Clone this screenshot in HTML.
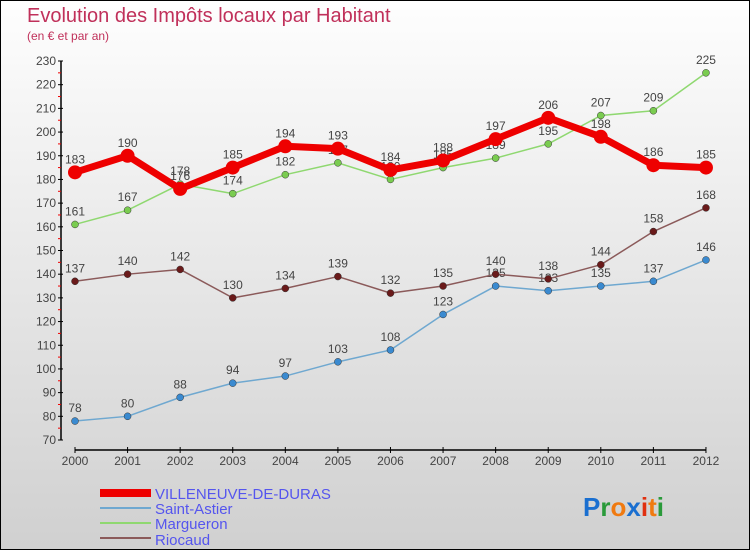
<!DOCTYPE html>
<html><head><meta charset="utf-8"><style>
body{margin:0}
#c{width:750px;height:550px;position:relative;box-sizing:border-box;border:1px solid #000;background:linear-gradient(#fefefe,#d0d0d0);font-family:"Liberation Sans",sans-serif;overflow:hidden}
</style></head><body>
<div id="c">
<svg id="s" width="750" height="550" style="position:absolute;left:-1px;top:-1px">
<text x="27" y="22" font-size="20" fill="#c0305a">Evolution des Impôts locaux par Habitant</text>
<text x="27" y="40" font-size="12" fill="#c0305a">(en € et par an)</text>
<g id="g"></g>
<g>
<rect x="100" y="489" width="51" height="8" fill="#e00"/>
<text x="155" y="499" font-size="15" fill="#5555ee">VILLENEUVE-DE-DURAS</text>
<line x1="100" y1="508" x2="151" y2="508" stroke="#6fa8d0" stroke-width="2"/>
<text x="155" y="514" font-size="15" fill="#5555ee">Saint-Astier</text>
<line x1="100" y1="523" x2="151" y2="523" stroke="#8fd870" stroke-width="2"/>
<text x="155" y="529" font-size="15" fill="#5555ee">Margueron</text>
<line x1="100" y1="538" x2="151" y2="538" stroke="#8b5a5a" stroke-width="2"/>
<text x="155" y="545" font-size="15" fill="#5555ee">Riocaud</text>
</g>
<g font-size="26" font-family="Liberation Sans,sans-serif" font-weight="bold">
<text x="583" y="516"><tspan fill="#1a6fd0">P</tspan><tspan fill="#2a9a3a">r</tspan><tspan fill="#f07a10">o</tspan><tspan fill="#1a6fd0">x</tspan><tspan fill="#e03010">i</tspan><tspan fill="#f07a10">t</tspan><tspan fill="#2a9a3a">i</tspan></text>
</g>
</svg>
</div>
<script>
const years=[2000,2001,2002,2003,2004,2005,2006,2007,2008,2009,2010,2011,2012];
const villeneuve=[183,190,176,185,194,193,184,188,197,206,198,186,185];
const saintAstier=[78,80,88,94,97,103,108,123,135,133,135,137,146];
const margueron=[161,167,178,174,182,187,180,185,189,195,207,209,225];
const riocaud=[137,140,142,130,134,139,132,135,140,138,144,158,168];
const yTicks=[70,80,90,100,110,120,130,140,150,160,170,180,190,200,210,220,230];
const NS="http://www.w3.org/2000/svg";
const g=document.getElementById('g');
const X=i=>75+i*52.58;
const Y=v=>440-(v-70)*379/160;
function el(t,a,p){const e=document.createElementNS(NS,t);for(const k in a)e.setAttribute(k,a[k]);(p||g).appendChild(e);return e;}
let ax=el('line',{x1:61,y1:61,x2:61,y2:440,stroke:'#000','stroke-width':1.5});


yTicks.forEach(v=>{
 el('line',{x1:58,x2:63,y1:Y(v),y2:Y(v),stroke:'#000'});
 if(v<230)el('line',{x1:58,x2:61,y1:Y(v+5),y2:Y(v+5),stroke:'#e00'});
 const t=el('text',{x:56,y:Y(v)+4,'text-anchor':'end','font-size':12,fill:'#444'});
 
 
 t.textContent=v;
});
let xa=el('line',{x1:75,y1:450,x2:706,y2:450,stroke:'#000','stroke-width':1.5});


years.forEach((y,i)=>{
 el('line',{x1:X(i),x2:X(i),y1:447,y2:453,stroke:'#000'});
 const t=el('text',{x:X(i),y:465,'text-anchor':'middle','font-size':12,fill:'#444'});
 
 
 t.textContent=y;
});
function series(data,name,col,dot,w,r){
 const gg=el('g',{});
 
 
 el('polyline',{points:data.map((v,i)=>X(i)+','+Y(v)).join(' '),fill:'none',stroke:col,'stroke-width':w,'stroke-linejoin':'round'},gg);
 data.forEach((v,i)=>{
  const c=el('circle',{cx:X(i),cy:Y(v),r:r,fill:dot,stroke:w>3?'none':'#333','stroke-width':0.5},gg);
  
  
  const t=el('text',{x:X(i),y:Y(v)-9,'text-anchor':'middle','font-size':12,fill:'#444'},gg);
  
  
  t.textContent=v;
 });
}
series(saintAstier,'saint-astier','#6fa8d0','#3a8ad0',1.5,3.5);
series(margueron,'margueron','#8fd870','#7acc50',1.5,3.5);
series(riocaud,'riocaud','#8b5a5a','#6a1a1a',1.5,3.5);
series(villeneuve,'villeneuve','#ee0000','#ee0000',7,7);
</script>
</body></html>
